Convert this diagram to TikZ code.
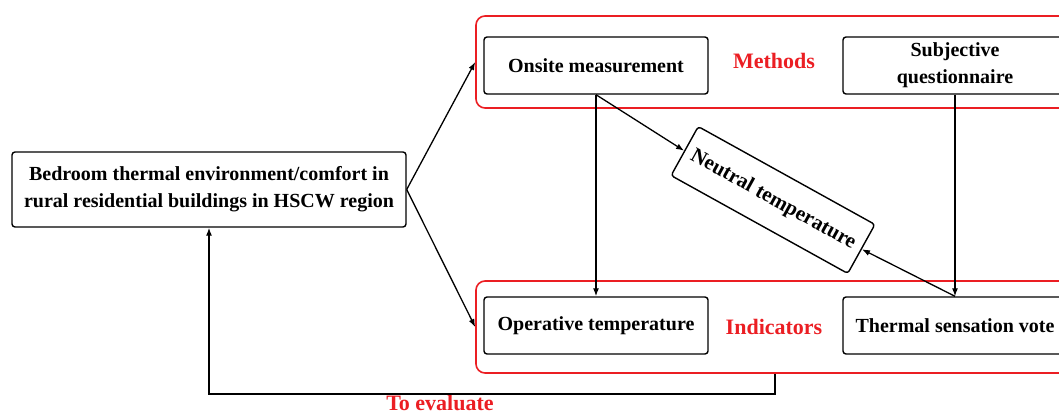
\documentclass[tikz,border=0pt]{standalone}
\usepackage{fontspec}
\setmainfont{Liberation Serif}
\usetikzlibrary{arrows.meta,calc}
\definecolor{redline}{RGB}{235,30,35}
\tikzset{
  box/.style={draw=black, line width=1.4pt, rounded corners=3pt, align=center,
    font=\fontsize{20}{27}\selectfont\bfseries, inner sep=2pt},
  redbox/.style={draw=redline, line width=1.6pt, rounded corners=9pt},
  redlabel/.style={text=redline, font=\fontsize{22}{26}\selectfont\bfseries, inner sep=0pt},
  arr/.style={line width=1.3pt, -{Latex[length=8pt,width=6pt]}},
}
\begin{document}
\begin{tikzpicture}[x=1pt,y=-1pt]
\useasboundingbox (0,0) rectangle (1059,414);
\clip (0,0) rectangle (1059,414);
% red group boxes
\node[redbox, minimum width=610, minimum height=92] (meth) at (781,62) {};
\node[redbox, minimum width=610, minimum height=92] (ind) at (781,327) {};
% main boxes
\node[box, minimum width=394, minimum height=75] (bed) at (209,189.5)
  {Bedroom thermal environment/comfort in\\rural residential buildings in HSCW region};
\node[box, minimum width=224, minimum height=57] (ons) at (596,65.5) {Onsite measurement};
\node[box, minimum width=224, minimum height=57] (sub) at (955,65.5) {Subjective\\questionnaire};
\node[box, minimum width=224, minimum height=57] (ope) at (596,325.5) {Operative temperature};
\node[box, minimum width=224, minimum height=57] (tsv) at (955,325.5) {Thermal sensation vote};
\node[box, minimum width=202, minimum height=56, rotate=-29, font=\fontsize{21}{27}\selectfont\bfseries] (neu) at (773,200) {Neutral temperature};
% labels
\node[redlabel] (mlab) at (774,61) {Methods};
\node[redlabel] (ilab) at (774,327) {Indicators};
\node[redlabel] (elab) at (440,403) {To evaluate};
% connectors
\draw[arr] (bed.east) -- (meth.west);
\draw[arr] (bed.east) -- (ind.west);
\draw[arr] (ons.south) -- (ope.north);
\draw[arr] (sub.south) -- (tsv.north);
\draw[arr] (ons.south) -- (neu.west);
\draw[arr] (tsv.north) -- (neu.east);
\coordinate (ev) at (775,394);
\draw[arr] (ind.south -| ev) -- (ev) -| (bed.south);
\end{tikzpicture}
\end{document}
